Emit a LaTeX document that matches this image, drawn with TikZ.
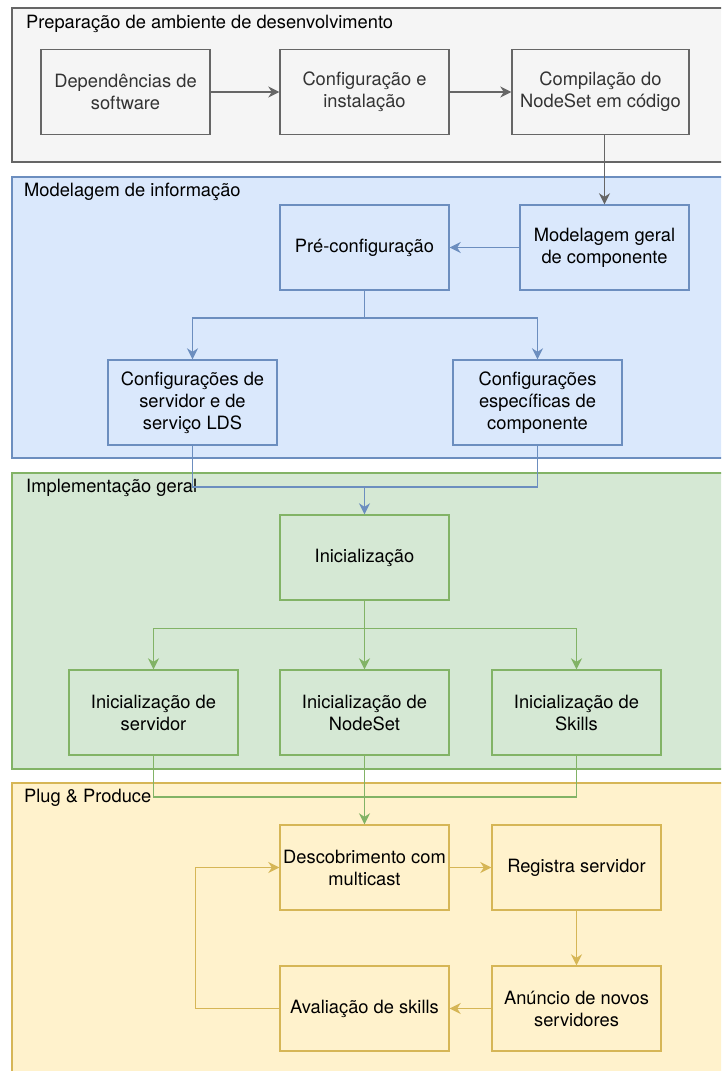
\documentclass[tikz,border=0pt]{standalone}
\usepackage{fontspec}
\setmainfont{TeX Gyre Heros}
\usetikzlibrary{arrows.meta}

\definecolor{grayfill}{HTML}{F5F5F5}
\definecolor{graydraw}{HTML}{666666}
\definecolor{graytext}{HTML}{333333}
\definecolor{bluefill}{HTML}{DAE8FC}
\definecolor{bluedraw}{HTML}{6C8EBF}
\definecolor{greenfill}{HTML}{D5E8D4}
\definecolor{greendraw}{HTML}{82B366}
\definecolor{yellowfill}{HTML}{FFF2CC}
\definecolor{yellowdraw}{HTML}{D6B656}

\tikzset{
  lane/.style={line width=1.4pt},
  lanetitle/.style={anchor=west, inner sep=0pt},
  stepbox/.style={draw, line width=1.4pt, minimum width=169pt, minimum height=85pt,
    align=center, inner sep=0pt},
  flow/.style={line width=1.5pt, -{Stealth[length=11pt, width=11pt, inset=3.5pt]}},
  link/.style={line width=1.5pt},
}

\begin{document}
\begin{tikzpicture}[x=1pt, y=-1pt, font=\fontsize{18.3}{22}\selectfont]
\useasboundingbox (0,0) rectangle (721,1071);
\clip (0,0) rectangle (721,1071);

% swimlanes
\draw[lane, fill=grayfill, draw=graydraw] (12,8) rectangle (740,162);
\draw[lane, fill=bluefill, draw=bluedraw] (12,177) rectangle (740,458);
\draw[lane, fill=greenfill, draw=greendraw] (12,473) rectangle (740,769);
\draw[lane, fill=yellowfill, draw=yellowdraw] (12,783) rectangle (740,1090);

\node[lanetitle] (t1) at (26,23.5) {Preparação de ambiente de desenvolvimento};
\node[lanetitle] (t2) at (24,192) {Modelagem de informação};
\node[lanetitle] (t3) at (26,488) {Implementação geral};
\node[lanetitle] (t4) at (24,798) {Plug \& Produce};

% development environment
\begin{scope}[every node/.style={stepbox, fill=grayfill, draw=graydraw, text=graytext}]
\node (dep) at (125.5,92) {Dependências de\\software};
\node (conf) at (364.5,92) {Configuração e\\instalação};
\node[minimum width=177pt] (comp) at (600.5,92) {Compilação do\\NodeSet em código};
\end{scope}

% information modelling
\begin{scope}[every node/.style={stepbox, fill=bluefill, draw=bluedraw}]
\node (pre) at (364.5,247.5) {Pré-configuração};
\node (mod) at (604.5,247.5) {Modelagem geral\\de componente};
\node (cfga) at (192.5,402.5) {Configurações de\\servidor e de\\serviço LDS};
\node (cfgb) at (537.5,402.5) {Configurações\\específicas de\\componente};
\end{scope}

% general implementation
\begin{scope}[every node/.style={stepbox, fill=greenfill, draw=greendraw}]
\node (init) at (364.5,557.5) {Inicialização};
\node (inis) at (153.5,712.5) {Inicialização de\\servidor};
\node (inin) at (364.5,712.5) {Inicialização de\\NodeSet};
\node (inik) at (576.5,712.5) {Inicialização de\\Skills};
\end{scope}

% plug & produce
\begin{scope}[every node/.style={stepbox, fill=yellowfill, draw=yellowdraw}]
\node (desc) at (364.5,867.5) {Descobrimento com\\multicast};
\node (reg) at (576.5,867.5) {Registra servidor};
\node (anu) at (576.5,1008.5) {Anúncio de novos\\servidores};
\node (ava) at (364.5,1008.5) {Avaliação de skills};
\end{scope}

\coordinate (jblue) at (364.5,487);
\coordinate (jgreen) at (364.5,797);
\coordinate (loop) at (195.5,1008.5);

% connectors
\draw[flow, graydraw] (dep) -- (conf);
\draw[flow, graydraw] (conf) -- (comp);
\draw[flow, graydraw] (comp.south -| mod.north) -- (mod.north);

\draw[flow, bluedraw] (mod) -- (pre);
\draw[flow, bluedraw] (pre.south) -- ++(0,27.5) -| (cfga.north);
\draw[flow, bluedraw] (pre.south) -- ++(0,27.5) -| (cfgb.north);
\draw[link, bluedraw] (cfga.south) |- (jblue);
\draw[link, bluedraw] (cfgb.south) |- (jblue);
\draw[flow, bluedraw] (jblue) -- (init.north);

\draw[flow, greendraw] (init.south) -- ++(0,28) -| (inis.north);
\draw[flow, greendraw] (init.south) -- ++(0,28) -| (inik.north);
\draw[flow, greendraw] (init.south) -- (inin.north);
\draw[link, greendraw] (inis.south) |- (jgreen);
\draw[link, greendraw] (inik.south) |- (jgreen);
\draw[flow, greendraw] (inin.south) -- (desc.north);

\draw[flow, yellowdraw] (desc) -- (reg);
\draw[flow, yellowdraw] (reg) -- (anu);
\draw[flow, yellowdraw] (anu) -- (ava);
\draw[flow, yellowdraw] (ava.west) -- (loop) |- (desc.west);
\end{tikzpicture}
\end{document}
